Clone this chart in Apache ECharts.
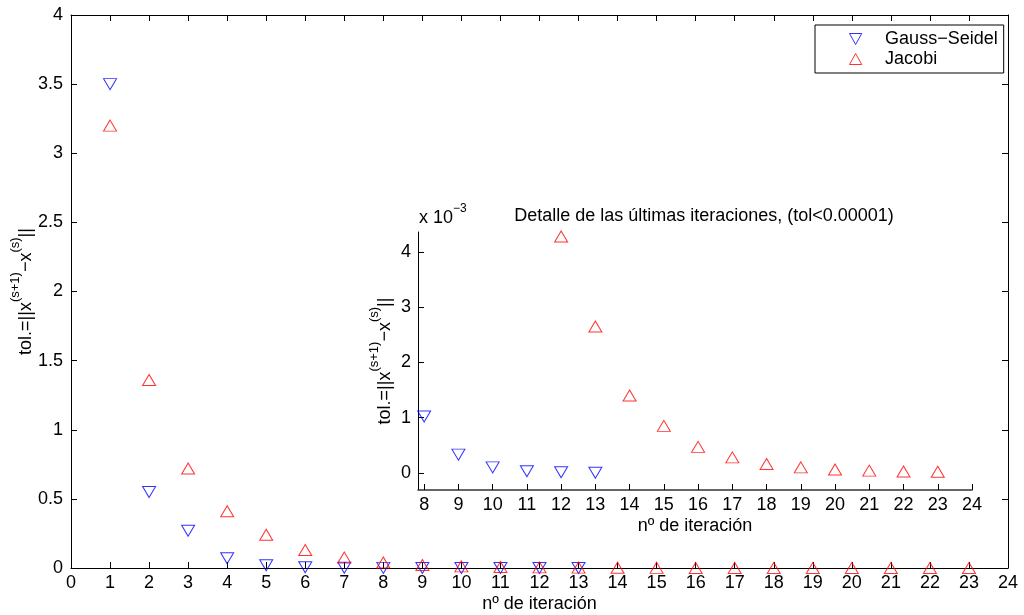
<!DOCTYPE html>
<html><head><meta charset="utf-8">
<script src="https://cdn.jsdelivr.net/npm/echarts@6/dist/echarts.min.js"></script>
<style>html,body{margin:0;padding:0;background:#fff}#c{width:1024px;height:615px}</style>
</head><body><div id="c"></div>
<script>
// ---- data ----
const gsIter = [1,2,3,4,5,6,7,8,9,10,11,12,13];
const gaussSeidel = [3.5,0.55,0.27,0.07,0.02,0.006,0.002,0.00102,0.00033,0.0001,0.00003,0.00001,0.000003];
const jacIter = [1,2,3,4,5,6,7,8,9,10,11,12,13,14,15,16,17,18,19,20,21,22,23];
const jacobi = [3.2,1.36,0.72,0.41,0.24,0.13,0.075,0.04,0.022,0.012,0.007,0.00428,0.00265,0.0014,0.00085,0.00047,0.00028,0.00016,0.0001,0.00006,0.00004,0.000025,0.00002];
const insetGsFrom = 8;
const insetJacFrom = 12;
const insetScale = 1e-3;
const insetXTicks = [8,9,10,11,12,13,14,15,16,17,18,19,20,21,22,23,24];
const insetYTicks = [0,1,2,3,4];
const seriesNames = ['Gauss\u2212Seidel','Jacobi'];

const FONT = "'Liberation Sans', Arial, sans-serif";
const FS = 18;
const pairs = (xs, ys, from, scale) => xs.map((x,i)=>[x, ys[i]/scale]).filter(p=>p[0]>=from);

const yNameRich = {
  b:{fontSize:FS, fontFamily:FONT, color:'#000', verticalAlign:'bottom', lineHeight:26},
  s:{fontSize:13, fontFamily:FONT, color:'#000', verticalAlign:'top', lineHeight:13}
};
const yName = '{b|tol.=||x}{s|(s+1)}{b|\u2212x}{s|(s)}{b|||}';

const markGS = {symbol:'triangle', symbolRotate:180, symbolSize:[13,11],
  itemStyle:{color:'rgba(255,255,255,0)', borderColor:'#0000ff', borderWidth:1}};
const markJ = {symbol:'triangle', symbolSize:[13,11],
  itemStyle:{color:'rgba(255,255,255,0)', borderColor:'#ff0000', borderWidth:1}};

const axisCommon = {
  axisLine:{show:true, onZero:false, lineStyle:{color:'#000', width:1}},
  axisTick:{show:true, inside:true, length:6, lineStyle:{color:'#000'}},
  splitLine:{show:false},
  axisLabel:{fontSize:FS, fontFamily:FONT, color:'#000'}
};

const chart = echarts.init(document.getElementById('c'));
chart.setOption({
  animation:false,
  backgroundColor:'#fff',
  textStyle:{fontFamily:FONT},
  grid:[
    {left:71, right:16, top:15, bottom:47, containLabel:false, outerBoundsMode:'none'},
    {left:418, right:52, top:232, bottom:125, containLabel:false, outerBoundsMode:'none'}
  ],
  title:{text:'Detalle de las \u00faltimas iteraciones, (tol<0.00001)', left:699, top:202, textAlign:'center',
    textStyle:{fontSize:FS, fontWeight:'normal', fontFamily:FONT, color:'#000'}},
  legend:{
    data:[
      {name:seriesNames[0], icon:'path://M0,0L10,0L5,9Z',
        itemStyle:{color:'rgba(255,255,255,0)', borderColor:'#0000ff', borderWidth:1}},
      {name:seriesNames[1], icon:'path://M5,0L10,9L0,9Z',
        itemStyle:{color:'rgba(255,255,255,0)', borderColor:'#ff0000', borderWidth:1}}
    ],
    orient:'vertical', left:815, top:25,
    padding:[5,6,5,34], itemGap:2, itemWidth:13, itemHeight:11,
    borderColor:'#000', borderWidth:1, backgroundColor:'#fff',
    textStyle:{fontSize:FS, fontFamily:FONT, color:'#000', padding:[0,0,0,18]}
  },
  graphic:[{type:'text', left:419, top:203, style:{
    text:'{b|x 10}{s|\u22123}',
    rich:{b:{fontSize:FS, fontFamily:FONT, fill:'#000', verticalAlign:'bottom', lineHeight:24},
          s:{fontSize:12, fontFamily:FONT, fill:'#000', verticalAlign:'top', lineHeight:12}}
  }}],
  xAxis:[
    Object.assign({}, axisCommon, {type:'value', gridIndex:0, min:0, max:24, interval:1,
      name:'n\u00ba de iteraci\u00f3n', nameLocation:'middle', nameGap:27, nameMoveOverlap:false,
      nameTextStyle:{fontSize:FS, fontFamily:FONT, color:'#000'},
      axisLabel:Object.assign({}, axisCommon.axisLabel, {margin:6})}),
    Object.assign({}, axisCommon, {type:'value', gridIndex:0, position:'top', min:0, max:24, interval:1,
      axisLabel:{show:false}}),
    {type:'value', gridIndex:1, min:7.82, max:24,
      axisLine:{show:true, onZero:false, lineStyle:{color:'#333', width:1.5}},
      axisTick:{show:true, inside:true, length:6, customValues:insetXTicks, lineStyle:{color:'#000'}},
      axisLabel:{fontSize:FS, fontFamily:FONT, color:'#000', customValues:insetXTicks, margin:6},
      splitLine:{show:false},
      name:'n\u00ba de iteraci\u00f3n', nameLocation:'middle', nameGap:27, nameMoveOverlap:false,
      nameTextStyle:{fontSize:FS, fontFamily:FONT, color:'#000'}}
  ],
  yAxis:[
    Object.assign({}, axisCommon, {type:'value', gridIndex:0, min:0, max:4, interval:0.5,
      name:yName, nameLocation:'middle', nameGap:36, nameRotate:90, nameMoveOverlap:false,
      nameTextStyle:{rich:yNameRich}}),
    Object.assign({}, axisCommon, {type:'value', gridIndex:0, position:'right', min:0, max:4, interval:0.5,
      axisLabel:{show:false}}),
    {type:'value', gridIndex:1, min:-0.31, max:4.36,
      axisLine:{show:true, onZero:false, lineStyle:{color:'#000', width:1}},
      axisTick:{show:true, inside:true, length:6, customValues:insetYTicks, lineStyle:{color:'#000'}},
      axisLabel:{fontSize:FS, fontFamily:FONT, color:'#000', customValues:insetYTicks, margin:7},
      splitLine:{show:false},
      name:yName, nameLocation:'middle', nameGap:24, nameRotate:90, nameMoveOverlap:false,
      nameTextStyle:{rich:yNameRich}}
  ],
  series:[
    Object.assign({type:'scatter', name:seriesNames[0], xAxisIndex:0, yAxisIndex:0, clip:false,
      data:pairs(gsIter, gaussSeidel, 0, 1)}, markGS),
    Object.assign({type:'scatter', name:seriesNames[1], xAxisIndex:0, yAxisIndex:0, clip:false,
      data:pairs(jacIter, jacobi, 0, 1)}, markJ),
    Object.assign({type:'scatter', name:seriesNames[0], xAxisIndex:2, yAxisIndex:2, clip:false,
      data:pairs(gsIter, gaussSeidel, insetGsFrom, insetScale)}, markGS),
    Object.assign({type:'scatter', name:seriesNames[1], xAxisIndex:2, yAxisIndex:2, clip:false,
      data:pairs(jacIter, jacobi, insetJacFrom, insetScale)}, markJ)
  ]
});
</script></body></html>
